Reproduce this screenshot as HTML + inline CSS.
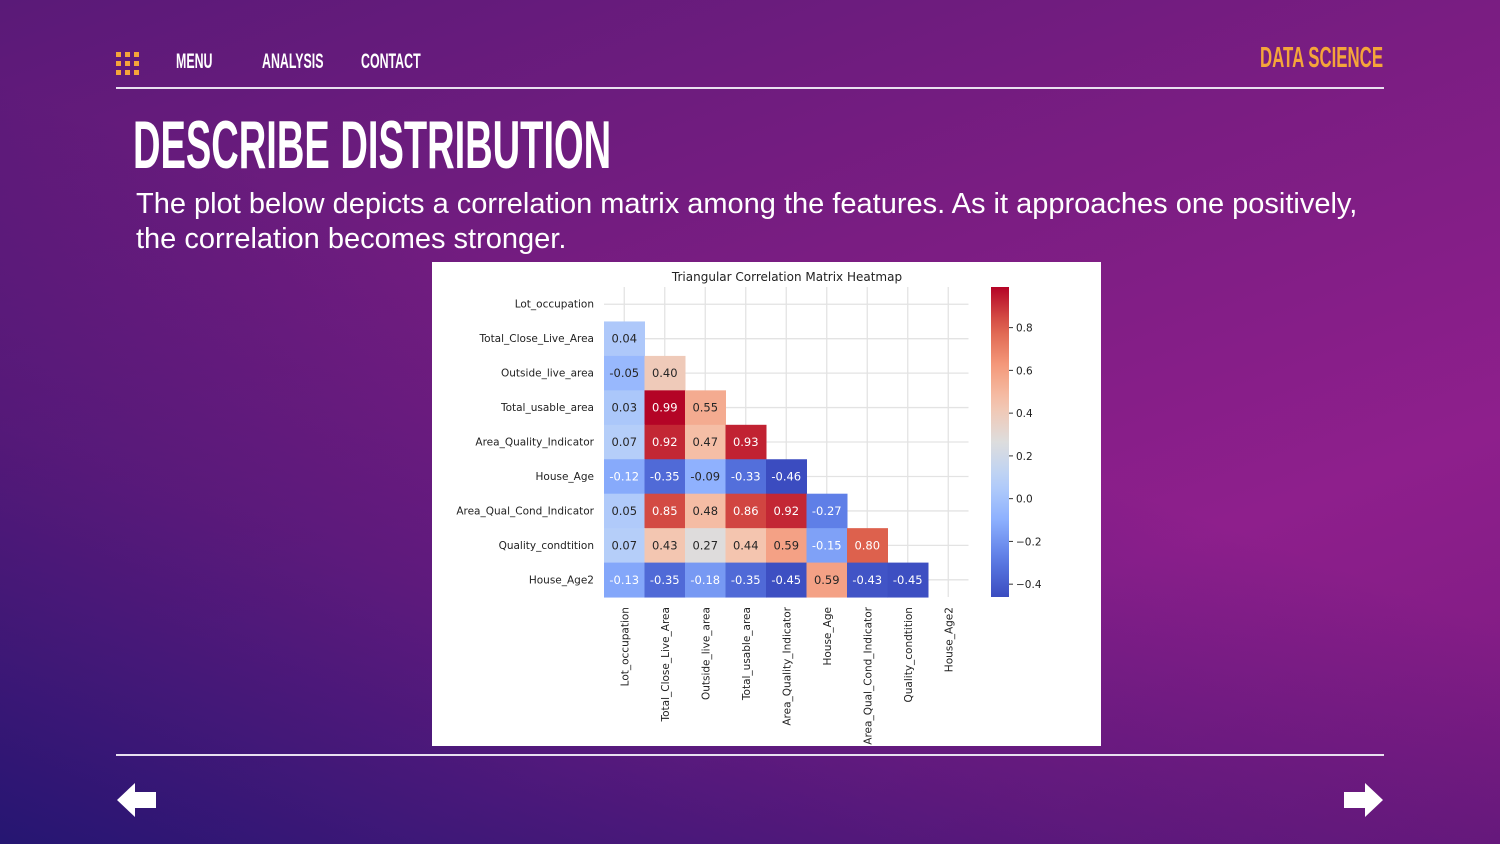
<!DOCTYPE html>
<html><head><meta charset="utf-8">
<style>
body{margin:0;width:1500px;height:844px;overflow:hidden;position:relative;font-family:"Liberation Sans",sans-serif;
background:linear-gradient(160deg,#5a1a78 0%,#7a1d82 40%,#8e1f8c 70%,#7a1a80 100%);}
.bg2{position:absolute;inset:0;background:linear-gradient(20deg,rgba(20,20,110,0.85) 0%,rgba(40,20,110,0.4) 30%,rgba(0,0,0,0) 55%);}
.nav{position:absolute;top:50px;color:#fff;font-family:"Liberation Sans Narrow","Liberation Sans",sans-serif;font-weight:bold;font-size:21px;transform:scaleX(0.59);transform-origin:left;white-space:nowrap}
.line{position:absolute;left:116px;width:1268px;height:2px;background:#e8e0f0}
</style></head><body>
<div class="bg2"></div>
<svg style="position:absolute;left:116px;top:52px" width="24" height="24">
<g fill="#f5a53a"><rect x="0" y="0" width="5" height="5"/><rect x="9" y="0" width="5" height="5"/><rect x="18" y="0" width="5" height="5"/><rect x="0" y="9" width="5" height="5"/><rect x="9" y="9" width="5" height="5"/><rect x="18" y="9" width="5" height="5"/><rect x="0" y="18" width="5" height="5"/><rect x="9" y="18" width="5" height="5"/><rect x="18" y="18" width="5" height="5"/></g></svg>
<div class="nav" style="left:176px">MENU</div>
<div class="nav" style="left:262px">ANALYSIS</div>
<div class="nav" style="left:361px">CONTACT</div>
<div class="nav" style="left:1260px;top:42px;font-size:29px;color:#f5a53a;transform:scaleX(0.58)">DATA SCIENCE</div>
<div class="line" style="top:87px"></div>
<div style="position:absolute;left:133px;top:106px;color:#fff;font-family:'Liberation Sans Narrow','Liberation Sans',sans-serif;font-weight:bold;font-size:68px;transform:scaleX(0.56);transform-origin:left;white-space:nowrap">DESCRIBE DISTRIBUTION</div>
<div style="position:absolute;left:136px;top:187px;width:1260px;color:#fff;font-size:29px;line-height:35px">The plot below depicts a correlation matrix among the features. As it approaches one positively, the correlation becomes stronger.</div>
<svg id="chart" style="position:absolute;left:432px;top:262px;background:#fff" width="669" height="484"></svg>
<div class="line" style="top:754px"></div>
<svg style="position:absolute;left:117px;top:783px" width="40" height="34"><polygon points="0,17 18,0 18,9 39,9 39,25 18,25 18,34" fill="#fff"/></svg>
<svg style="position:absolute;left:1344px;top:783px" width="40" height="34"><polygon points="39,17 21,0 21,9 0,9 0,25 21,25 21,34" fill="#fff"/></svg>
<script>
const labels=["Lot_occupation","Total_Close_Live_Area","Outside_live_area","Total_usable_area","Area_Quality_Indicator","House_Age","Area_Qual_Cond_Indicator","Quality_condtition","House_Age2"];
const row1=[0.04];
const row2=[-0.05,0.40];
const row3=[0.03,0.99,0.55];
const row4=[0.07,0.92,0.47,0.93];
const row5=[-0.12,-0.35,-0.09,-0.33,-0.46];
const row6=[0.05,0.85,0.48,0.86,0.92,-0.27];
const row7=[0.07,0.43,0.27,0.44,0.59,-0.15,0.80];
const row8=[-0.13,-0.35,-0.18,-0.35,-0.45,0.59,-0.43,-0.45];
const rows=[[],row1,row2,row3,row4,row5,row6,row7,row8];
const cbTicks=[0.8,0.6,0.4,0.2,0.0,-0.2,-0.4];
const vmin=-0.46,vmax=0.99;
const X0=172,Y0=25,CW=40.5,CH=34.45,N=9;
const xs=i=>X0+i*CW, ys=j=>Y0+j*CH;
const stops=[[0,[59,76,192]],[0.125,[93,125,230]],[0.25,[141,176,254]],[0.375,[184,208,249]],[0.5,[221,221,221]],[0.625,[245,196,173]],[0.75,[244,152,122]],[0.875,[220,94,75]],[1,[180,4,38]]];
function cmap(v){let t=Math.max(0,Math.min(1,(v-vmin)/(vmax-vmin)));
for(let k=1;k<stops.length;k++){if(t<=stops[k][0]){const a=stops[k-1],b=stops[k],f=(t-a[0])/(b[0]-a[0]);
return 'rgb('+a[1].map((c,i)=>Math.round(c+(b[1][i]-c)*f)).join(',')+')';}}return 'rgb(180,4,38)';}
const svg=document.getElementById('chart');const NS='http://www.w3.org/2000/svg';
function mk(t,a,p){const e=document.createElementNS(NS,t);for(const k in a)e.setAttribute(k,a[k]);(p||svg).appendChild(e);return e;}
const ttl=mk('text',{x:355,y:19,'text-anchor':'middle','font-size':12,'font-family':'DejaVu Sans,sans-serif',fill:'#222'});ttl.textContent='Triangular Correlation Matrix Heatmap';


for(let i=0;i<N;i++){
 const g1=mk('line',{x1:xs(i)+CW/2,x2:xs(i)+CW/2,y1:Y0,y2:ys(N),stroke:'#e3e3e3','stroke-width':1.3});
 
 
 const g2=mk('line',{x1:X0,x2:xs(N),y1:ys(i)+CH/2,y2:ys(i)+CH/2,stroke:'#e3e3e3','stroke-width':1.3});
 
 
}
rows.forEach((r,j)=>{r.forEach((v,i)=>{
 const c=mk('rect',{x:xs(i),y:ys(j),width:CW+0.5,height:CH+0.5,fill:cmap(v)});
 
 
 const t=(v-vmin)/(vmax-vmin);
 const tx=mk('text',{x:xs(i)+CW/2,y:ys(j)+CH/2+4,'text-anchor':'middle','font-size':11.5,'font-family':'DejaVu Sans,sans-serif',fill:(t<0.25||t>0.8)?'#fff':'#262626'});
 tx.textContent=v.toFixed(2);
 
 
});});
labels.forEach((l,j)=>{
 const t=mk('text',{x:162,y:ys(j)+CH/2+3.5,'text-anchor':'end','font-size':10.5,'font-family':'DejaVu Sans,sans-serif',fill:'#222'});t.textContent=l;
 
 
 const cx=xs(j)+CW/2+4;
 const u=mk('text',{x:0,y:0,'text-anchor':'end','font-size':10.5,'font-family':'DejaVu Sans,sans-serif',fill:'#222',transform:'translate('+cx+','+(ys(N)+10)+') rotate(-90)'});u.textContent=l;
 
 
});
const CBX=559,CBW=18,CBT=25,CBB=335;
const defs=mk('defs',{});const lg=mk('linearGradient',{id:'cb',x1:0,y1:1,x2:0,y2:0},defs);
for(let k=0;k<=20;k++){mk('stop',{offset:k/20,'stop-color':cmap(vmin+(vmax-vmin)*k/20)},lg);}
const cb=mk('rect',{x:CBX,y:CBT,width:CBW,height:CBB-CBT,fill:'url(#cb)'});


const cy=v=>CBB-(v-vmin)/(vmax-vmin)*(CBB-CBT);
cbTicks.forEach(v=>{
 mk('line',{x1:CBX+CBW,x2:CBX+CBW+4,y1:cy(v),y2:cy(v),stroke:'#333'});
 const t=mk('text',{x:CBX+CBW+7,y:cy(v)+4,'font-size':10.5,'font-family':'DejaVu Sans,sans-serif',fill:'#222'});
 t.textContent=v<0?'\u2212'+Math.abs(v).toFixed(1):v.toFixed(1);
 
 
});
</script>
</body></html>
